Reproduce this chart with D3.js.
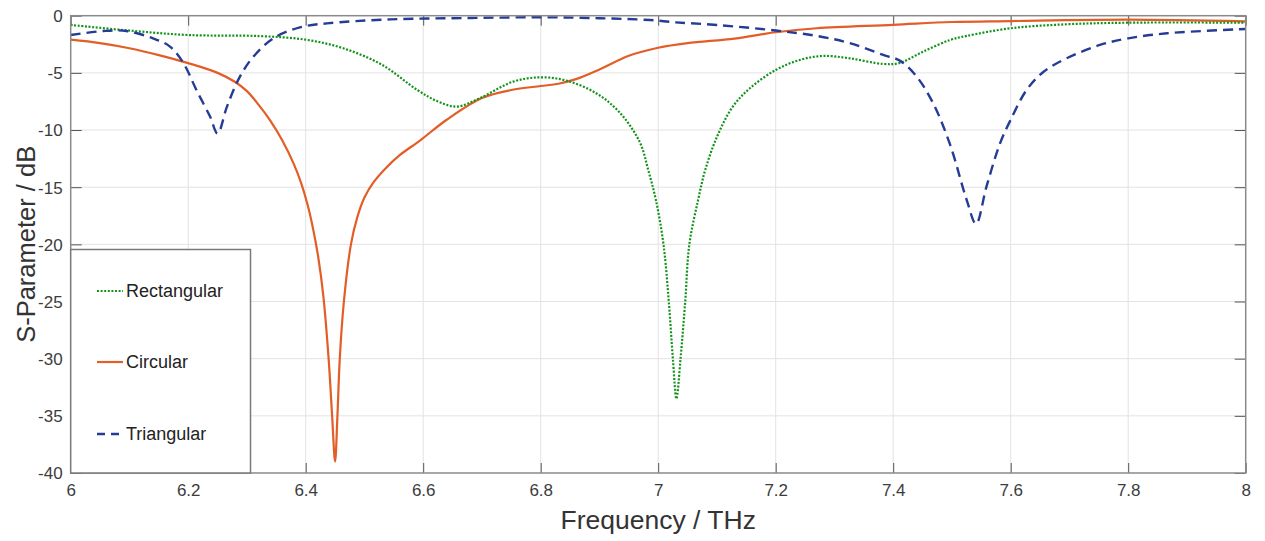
<!DOCTYPE html>
<html>
<head>
<meta charset="utf-8">
<script src="https://cdn.jsdelivr.net/npm/d3@7"></script>
<style>
  html, body { margin: 0; padding: 0; background: #fff; }
  svg { display: block; font-family: "Liberation Sans", Arial, sans-serif; }
</style>
</head>
<body>
<svg id="chart" width="1265" height="541"></svg>
<script>
// S-parameter spectra of three resonator shapes (frequency in THz, response in dB)
const rectFreq = [6.00, 6.10, 6.20, 6.32, 6.40, 6.464, 6.53, 6.59, 6.625, 6.657, 6.697, 6.753, 6.80, 6.844, 6.895, 6.935, 6.969, 6.983, 6.996, 7.009, 7.018, 7.025, 7.031, 7.038, 7.046, 7.053, 7.068, 7.08, 7.10, 7.127, 7.156, 7.20, 7.241, 7.281, 7.326, 7.383, 7.41, 7.451, 7.497, 7.525, 7.60, 7.695, 7.80, 8.00];
const rectDb   = [-0.81, -1.3, -1.69, -1.78, -2.1, -2.85, -4.3, -6.5, -7.5, -7.95, -7.2, -5.77, -5.39, -5.68, -6.8, -8.5, -11.1, -13.5, -16.1, -20.0, -25.0, -30.0, -33.5, -30.0, -25.0, -20.0, -16.1, -13.5, -10.6, -7.95, -6.35, -4.75, -3.87, -3.52, -3.73, -4.22, -4.15, -3.14, -2.12, -1.77, -1.1, -0.75, -0.61, -0.61];

const circFreq = [6.00, 6.05, 6.10, 6.15, 6.20, 6.25, 6.28, 6.30, 6.32, 6.34, 6.36, 6.38, 6.392, 6.403, 6.412, 6.421, 6.43, 6.439, 6.445, 6.450, 6.454, 6.458, 6.465, 6.477, 6.488, 6.50, 6.515, 6.535, 6.56, 6.595, 6.64, 6.70, 6.75, 6.80, 6.83, 6.86, 6.90, 6.95, 7.00, 7.05, 7.13, 7.20, 7.27, 7.40, 7.50, 7.60, 7.80, 8.00];
const circDb   = [-2.1, -2.4, -2.85, -3.45, -4.15, -5.0, -5.8, -6.6, -7.8, -9.2, -10.9, -13.0, -14.6, -16.5, -18.5, -21.0, -24.5, -30.0, -35.0, -39.0, -35.0, -30.0, -25.0, -20.0, -17.6, -15.9, -14.6, -13.4, -12.2, -10.9, -9.1, -7.2, -6.5, -6.15, -5.95, -5.55, -4.7, -3.5, -2.8, -2.4, -2.0, -1.45, -1.1, -0.8, -0.55, -0.47, -0.35, -0.5];

const triFreq = [6.00, 6.056, 6.095, 6.14, 6.169, 6.192, 6.214, 6.237, 6.25, 6.266, 6.288, 6.311, 6.345, 6.39, 6.436, 6.544, 6.68, 6.80, 6.90, 6.986, 7.03, 7.10, 7.20, 7.27, 7.326, 7.383, 7.412, 7.44, 7.468, 7.497, 7.525, 7.541, 7.559, 7.582, 7.60, 7.627, 7.656, 7.695, 7.752, 7.80, 7.866, 8.00];
const triDb   = [-1.69, -1.34, -1.34, -1.98, -2.7, -4.16, -6.5, -8.8, -10.3, -7.95, -5.33, -3.58, -1.98, -1.02, -0.67, -0.32, -0.2, -0.14, -0.22, -0.38, -0.58, -0.81, -1.3, -1.77, -2.4, -3.43, -3.95, -5.33, -7.66, -11.3, -16.1, -18.2, -14.9, -11.15, -9.1, -6.5, -4.9, -3.73, -2.56, -1.98, -1.54, -1.16];

const xTicks = [6, 6.2, 6.4, 6.6, 6.8, 7, 7.2, 7.4, 7.6, 7.8, 8];
const yTicks = [0, -5, -10, -15, -20, -25, -30, -35, -40];
const seriesNames = ["Rectangular", "Circular", "Triangular"];

const svg = d3.select("#chart");
const plot = { left: 70.7, right: 1245.7, top: 15.7, bottom: 473 };

const x = d3.scaleLinear().domain([6, 8]).range([plot.left, plot.right]);
const y = d3.scaleLinear().domain([-40, 0]).range([plot.bottom, plot.top]);

const styles = [
  { color: "#12941a", width: 2.2, dash: "2,1.6" },
  { color: "#e35d27", width: 2.2, dash: null },
  { color: "#243c96", width: 2.4, dash: "10,6" }
];

// grid
const grid = svg.append("g").attr("stroke", "#e3e3e3").attr("stroke-width", 1);
xTicks.slice(1, -1).forEach(t => grid.append("line")
  .attr("x1", x(t)).attr("x2", x(t)).attr("y1", plot.top).attr("y2", plot.bottom));
yTicks.slice(1, -1).forEach(t => grid.append("line")
  .attr("x1", plot.left).attr("x2", plot.right).attr("y1", y(t)).attr("y2", y(t)));

// axes with inward ticks; labels use a plain hyphen for negatives
const tickColor = "#555";
const fmt = d => String(+d.toFixed(1));
const xAxisB = svg.append("g").attr("transform", `translate(0,${plot.bottom})`)
  .call(d3.axisBottom(x).tickValues(xTicks).tickSizeInner(-10).tickSizeOuter(0).tickPadding(11).tickFormat(fmt));
const xAxisT = svg.append("g").attr("transform", `translate(0,${plot.top})`)
  .call(d3.axisTop(x).tickValues(xTicks).tickSizeInner(-10).tickSizeOuter(0).tickFormat(""));
const yAxisL = svg.append("g").attr("transform", `translate(${plot.left},0)`)
  .call(d3.axisLeft(y).tickValues(yTicks).tickSizeInner(-11).tickSizeOuter(0).tickPadding(8).tickFormat(fmt));
const yAxisR = svg.append("g").attr("transform", `translate(${plot.right},0)`)
  .call(d3.axisRight(y).tickValues(yTicks).tickSizeInner(-11).tickSizeOuter(0).tickFormat(""));
[xAxisB, xAxisT, yAxisL, yAxisR].forEach(a => {
  a.select(".domain").remove();
  a.selectAll(".tick line").attr("stroke", tickColor).attr("stroke-width", 1);
  a.selectAll("text").attr("fill", "#3c3c3c").style("font-size", "17px")
    .style("font-family", "'Liberation Sans', Arial, sans-serif");
});
yAxisL.selectAll("text").attr("dy", "0.35em");

// series lines
const lineGen = d3.line().x(d => x(d[0])).y(d => y(d[1])).curve(d3.curveCatmullRom.alpha(0.5));
const seriesData = [
  d3.zip(rectFreq, rectDb),
  d3.zip(circFreq, circDb),
  d3.zip(triFreq, triDb)
];
svg.append("clipPath").attr("id", "plotclip").append("rect")
  .attr("x", plot.left).attr("y", plot.top)
  .attr("width", plot.right - plot.left).attr("height", plot.bottom - plot.top);
const linesG = svg.append("g").attr("clip-path", "url(#plotclip)");
[1, 0, 2].forEach(i => {
  linesG.append("path").datum(seriesData[i])
    .attr("d", lineGen)
    .attr("fill", "none")
    .attr("stroke", styles[i].color)
    .attr("stroke-width", styles[i].width)
    .attr("stroke-dasharray", styles[i].dash)
    .attr("stroke-linejoin", "round");
});

// frame
svg.append("rect")
  .attr("x", plot.left).attr("y", plot.top)
  .attr("width", plot.right - plot.left).attr("height", plot.bottom - plot.top)
  .attr("fill", "none").attr("stroke", "#8a8a8a").attr("stroke-width", 1.5);

// legend
const legend = svg.append("g");
legend.append("rect")
  .attr("x", plot.left).attr("y", 249.5)
  .attr("width", 250.5 - plot.left).attr("height", plot.bottom - 249.5)
  .attr("fill", "#fff").attr("stroke", "#7a7a7a").attr("stroke-width", 1.5);
const legendY = [291, 362, 434];
seriesNames.forEach((name, i) => {
  legend.append("line")
    .attr("x1", 97).attr("x2", 123).attr("y1", legendY[i]).attr("y2", legendY[i])
    .attr("stroke", styles[i].color).attr("stroke-width", styles[i].width)
    .attr("stroke-dasharray", i === 2 ? "8,6" : styles[i].dash);
  legend.append("text")
    .attr("x", 126).attr("y", legendY[i]).attr("dy", "0.35em")
    .attr("fill", "#222").style("font-size", "18px")
    .text(name);
});

// axis titles
svg.append("text")
  .attr("x", (plot.left + plot.right) / 2).attr("y", 529)
  .attr("text-anchor", "middle").attr("fill", "#333").style("font-size", "26.5px")
  .text("Frequency / THz");
svg.append("text")
  .attr("transform", `translate(35,${(plot.top + plot.bottom) / 2}) rotate(-90)`)
  .attr("text-anchor", "middle").attr("fill", "#333").style("font-size", "25.5px")
  .text("S-Parameter / dB");
</script>
</body>
</html>
